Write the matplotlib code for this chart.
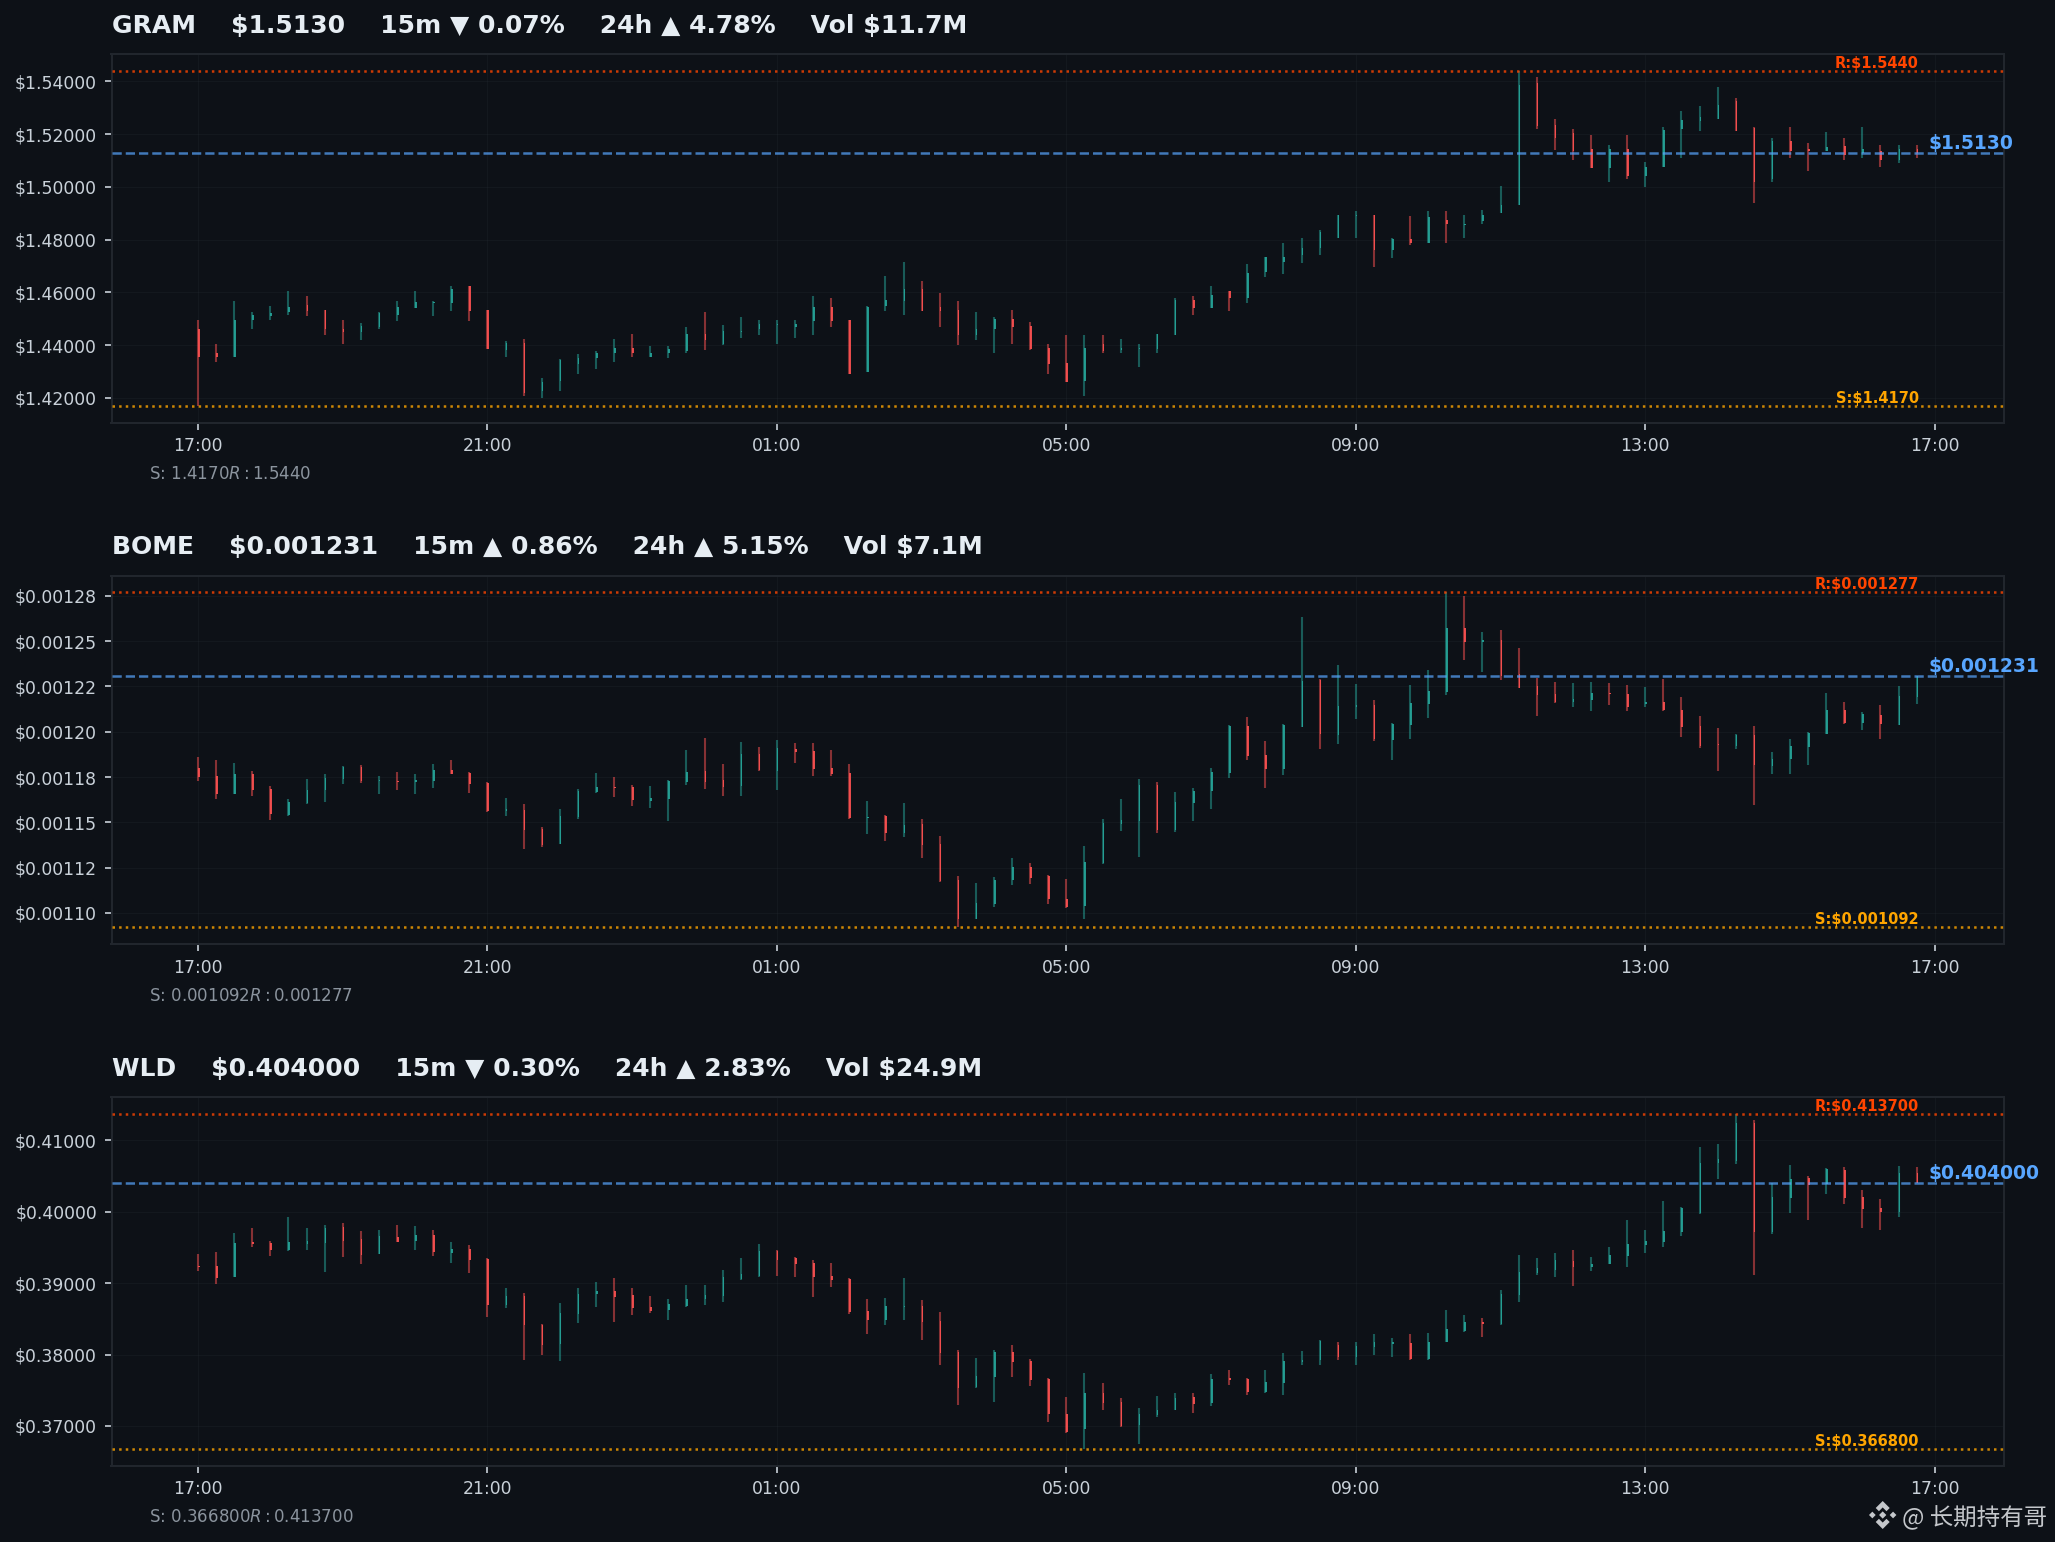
import numpy as np
import matplotlib
matplotlib.use("Agg")
import matplotlib.pyplot as plt
from matplotlib.patches import Polygon
from matplotlib.ticker import FuncFormatter, MultipleLocator

plt.rcParams['font.family'] = ['DejaVu Sans']

tick_labels = ["17:00", "21:00", "01:00", "05:00", "09:00", "13:00", "17:00"]

gram_open = [1.4463,1.4372,1.4357,1.4497,1.4509,1.4525,1.4551,1.4532,1.4463,1.4448,1.4467,1.4516,1.4539,1.4558,1.4558,1.4623,
1.4532,1.4380,1.4410,1.4228,1.4266,1.4327,1.4350,1.4369,1.4391,1.4357,1.4369,1.4376,1.4441,1.4406,1.4448,1.4460,
1.4478,1.4467,1.4490,1.4543,1.4494,1.4297,1.4547,1.4569,1.4611,1.4543,1.4532,1.4437,1.4460,1.4501,1.4471,1.4391,
1.4331,1.4266,1.4403,1.4380,1.4387,1.4387,1.4437,1.4573,1.4539,1.4604,1.4577,1.4679,1.4717,1.4740,1.4767,1.4808,
1.4888,1.4892,1.4759,1.4801,1.4789,1.4873,1.4854,1.4869,1.4899,1.4930,1.5392,1.5233,1.5203,1.5142,1.5070,1.5142,
1.5040,1.5077,1.5218,1.5248,1.5259,1.5324,1.5222,1.5028,1.5172,1.5142,1.5134,1.5153,1.5127,1.5134,1.5100,1.5142]
gram_high = [1.4496,1.4406,1.4566,1.4524,1.4547,1.4607,1.4585,1.4535,1.4496,1.4485,1.4524,1.4566,1.4607,1.4566,1.4626,1.4626,
1.4535,1.4414,1.4425,1.4274,1.4346,1.4365,1.4376,1.4425,1.4444,1.4395,1.4395,1.4467,1.4524,1.4475,1.4505,1.4497,
1.4497,1.4497,1.4585,1.4577,1.4497,1.4547,1.4664,1.4717,1.4645,1.4596,1.4566,1.4524,1.4505,1.4535,1.4486,1.4406,
1.4437,1.4437,1.4437,1.4425,1.4406,1.4444,1.4577,1.4585,1.4626,1.4607,1.4706,1.4736,1.4786,1.4805,1.4835,1.4895,
1.4907,1.4895,1.4805,1.4888,1.4907,1.4907,1.4895,1.4914,1.5005,1.5440,1.5415,1.5256,1.5218,1.5195,1.5157,1.5195,
1.5096,1.5225,1.5286,1.5305,1.5377,1.5335,1.5225,1.5187,1.5225,1.5165,1.5206,1.5187,1.5225,1.5157,1.5157,1.5157]
gram_low = [1.4170,1.4338,1.4357,1.4460,1.4497,1.4516,1.4509,1.4437,1.4406,1.4418,1.4460,1.4490,1.4539,1.4509,1.4528,1.4490,
1.4387,1.4357,1.4209,1.4198,1.4228,1.4289,1.4308,1.4338,1.4357,1.4357,1.4350,1.4369,1.4380,1.4399,1.4429,1.4437,
1.4406,1.4429,1.4437,1.4467,1.4289,1.4297,1.4528,1.4516,1.4528,1.4467,1.4399,1.4418,1.4369,1.4406,1.4380,1.4289,
1.4259,1.4209,1.4369,1.4369,1.4319,1.4369,1.4437,1.4516,1.4539,1.4528,1.4558,1.4657,1.4668,1.4710,1.4740,1.4808,
1.4808,1.4698,1.4729,1.4778,1.4789,1.4789,1.4808,1.4858,1.4899,1.4930,1.5218,1.5138,1.5100,1.5070,1.5017,1.5028,
1.4998,1.5077,1.5108,1.5210,1.5259,1.5210,1.4937,1.5017,1.5108,1.5059,1.5134,1.5100,1.5108,1.5077,1.5089,1.5108]
gram_close = [1.4357,1.4357,1.4494,1.4513,1.4520,1.4543,1.4528,1.4460,1.4448,1.4471,1.4520,1.4543,1.4562,1.4562,1.4611,1.4528,
1.4387,1.4410,1.4217,1.4262,1.4342,1.4353,1.4372,1.4391,1.4369,1.4372,1.4384,1.4441,1.4418,1.4452,1.4452,1.4482,
1.4482,1.4482,1.4543,1.4490,1.4289,1.4543,1.4573,1.4611,1.4528,1.4528,1.4437,1.4463,1.4501,1.4467,1.4387,1.4327,
1.4259,1.4391,1.4376,1.4391,1.4391,1.4441,1.4573,1.4539,1.4592,1.4577,1.4672,1.4733,1.4733,1.4770,1.4827,1.4892,
1.4892,1.4759,1.4801,1.4789,1.4884,1.4858,1.4858,1.4892,1.4933,1.5385,1.5229,1.5187,1.5134,1.5070,1.5142,1.5040,
1.5077,1.5214,1.5252,1.5263,1.5312,1.5210,1.5017,1.5172,1.5134,1.5134,1.5150,1.5119,1.5142,1.5100,1.5142,1.5130]

bome_open = np.array([1180.0,1175.6,1165.6,1176.7,1168.4,1154.0,1160.7,1167.8,1173.9,1180.5,1172.8,1172.8,1172.3,1172.8,1178.9,1177.2,
1171.7,1156.2,1156.8,1146.3,1138.0,1152.9,1166.7,1169.5,1169.5,1161.8,1162.9,1172.3,1178.3,1173.4,1170.0,1187.7,
1178.3,1190.5,1189.4,1180.0,1177.2,1152.2,1153.5,1144.1,1149.1,1138.0,1118.1,1096.6,1104.9,1118.1,1125.3,1120.3,
1107.6,1103.8,1127.5,1149.1,1150.7,1170.6,1145.7,1160.7,1167.3,1177.2,1203.2,1187.2,1179.4,1202.6,1228.6,1198.2,
1213.7,1214.8,1195.5,1203.7,1215.3,1222.0,1257.3,1249.6,1250.7,1231.9,1225.3,1220.9,1216.4,1217.5,1221.4,1220.9,
1215.3,1216.4,1212.0,1203.2,1193.2,1192.1,1198.2,1181.1,1185.0,1191.6,1198.8,1212.0,1204.8,1209.3,1203.7,1219.2]) * 1e-6
bome_high = np.array([1186.1,1184.4,1182.8,1178.3,1170.0,1162.9,1173.9,1176.7,1181.1,1181.6,1175.6,1177.8,1176.7,1182.2,1184.4,1177.8,
1172.3,1163.4,1160.1,1147.4,1157.3,1168.4,1177.2,1175.0,1170.6,1170.0,1173.4,1189.9,1196.6,1182.2,1194.3,1191.6,
1195.5,1193.8,1193.8,1189.9,1182.2,1161.8,1154.0,1160.7,1151.8,1142.4,1120.3,1116.5,1119.8,1130.3,1127.5,1120.9,
1118.7,1136.9,1151.8,1162.9,1173.9,1172.3,1166.7,1168.9,1180.0,1203.7,1208.2,1194.9,1204.3,1263.4,1229.1,1236.9,
1226.4,1217.5,1204.8,1225.8,1234.1,1277.0,1275.0,1255.1,1256.2,1246.3,1229.7,1227.5,1226.9,1227.5,1226.9,1225.8,
1224.7,1229.1,1219.2,1208.7,1202.1,1198.8,1203.2,1188.8,1196.0,1199.9,1221.4,1216.4,1210.9,1214.8,1225.3,1230.8]) * 1e-6
bome_low = np.array([1172.8,1162.9,1165.6,1164.5,1151.3,1153.5,1160.1,1161.2,1171.2,1171.7,1165.6,1167.8,1165.6,1168.9,1176.7,1166.2,
1155.7,1153.5,1135.3,1136.4,1138.0,1151.8,1166.2,1164.0,1159.0,1157.9,1150.7,1170.6,1168.4,1164.5,1164.5,1178.3,
1167.8,1182.8,1175.6,1175.6,1151.8,1143.5,1139.7,1141.9,1130.3,1117.0,1092.0,1096.6,1103.2,1115.4,1115.9,1104.9,
1102.7,1096.6,1127.0,1145.2,1130.8,1144.1,1144.6,1150.7,1157.3,1174.5,1184.4,1168.9,1176.1,1202.6,1190.5,1193.2,
1207.0,1194.9,1184.4,1196.0,1207.6,1220.3,1239.6,1233.0,1228.6,1224.2,1208.7,1215.9,1213.7,1211.5,1214.8,1211.5,
1213.7,1211.5,1197.1,1191.0,1178.3,1190.5,1159.6,1176.7,1176.7,1181.6,1198.8,1204.3,1201.0,1196.0,1203.7,1215.3]) * 1e-6
bome_close = np.array([1175.0,1165.6,1176.7,1167.8,1154.6,1161.2,1167.8,1174.5,1180.5,1172.8,1173.4,1172.3,1173.4,1178.9,1176.7,1171.2,
1156.2,1157.3,1145.7,1137.5,1153.5,1167.3,1169.5,1168.9,1162.3,1163.4,1172.8,1177.8,1172.3,1169.5,1187.7,1178.9,
1191.0,1188.8,1179.4,1176.7,1152.4,1152.9,1144.1,1148.5,1137.5,1117.6,1096.6,1105.4,1118.1,1125.3,1119.2,1107.6,
1103.2,1128.1,1149.6,1151.3,1170.6,1145.7,1161.2,1167.3,1177.8,1203.2,1186.6,1179.4,1203.7,1228.0,1198.8,1214.2,
1214.8,1196.0,1204.3,1215.9,1222.5,1257.3,1249.6,1250.7,1230.8,1224.2,1220.3,1216.4,1218.1,1221.4,1220.9,1213.7,
1216.4,1212.0,1202.6,1192.1,1192.7,1198.2,1181.6,1185.0,1192.1,1199.3,1212.0,1204.8,1209.8,1204.3,1219.8,1231.0]) * 1e-6

wld_open = np.array([392.33,392.33,390.79,395.69,395.55,394.57,395.41,395.55,397.79,396.11,394.01,396.39,395.83,396.67,394.15,394.71,
393.31,386.87,388.13,384.07,381.41,385.61,388.41,388.83,388.27,386.59,386.17,386.73,387.71,388.13,390.51,390.93,
394.43,393.45,392.75,390.93,390.51,386.03,384.77,386.59,386.73,384.63,380.29,375.39,376.79,380.29,379.03,376.51,
371.61,369.51,374.55,373.29,370.07,371.47,372.17,373.99,373.15,376.65,376.51,374.69,375.95,378.89,379.17,381.27,
379.59,380.99,381.41,381.55,379.31,381.69,383.23,384.49,384.21,388.27,391.35,391.77,393.03,392.19,392.61,393.73,
395.27,395.69,397.09,399.75,406.75,407.03,412.35,397.09,401.85,404.65,403.81,405.77,401.99,400.45,399.89,405.35]) * 1e-3
wld_high = np.array([394.01,394.29,396.95,397.65,395.83,399.19,397.65,398.07,398.35,397.23,397.37,398.07,397.93,397.37,395.69,395.27,
393.45,389.25,388.55,384.21,387.15,389.25,390.09,390.65,389.25,388.13,387.71,389.67,389.67,391.77,393.45,395.41,
394.57,393.59,393.17,392.75,390.65,387.71,387.85,390.65,387.57,385.89,380.57,379.45,380.57,381.27,379.31,376.65,
373.99,377.35,375.95,373.85,372.45,374.13,374.55,374.55,377.21,377.77,376.65,377.77,380.15,380.43,381.97,381.69,
381.69,382.81,382.25,382.81,382.95,386.17,385.47,385.05,388.97,393.87,393.45,394.15,394.57,393.59,394.99,398.77,
397.37,401.43,400.59,408.99,409.41,413.70,412.77,403.95,406.47,404.93,406.05,406.19,402.97,401.71,406.33,406.19]) * 1e-3
wld_low = np.array([391.63,389.81,390.79,394.99,393.73,394.43,394.57,391.49,393.59,392.61,394.01,395.69,394.57,393.73,392.75,391.35,
385.19,386.45,379.17,379.87,379.03,384.35,386.59,384.49,385.47,385.75,384.77,386.59,386.87,387.29,390.37,390.79,
390.93,390.79,387.99,389.39,385.61,382.81,384.07,384.77,381.97,378.47,372.87,375.25,373.29,376.79,375.53,370.49,
368.95,366.80,372.17,369.79,367.41,371.19,372.17,371.75,372.73,375.67,374.27,374.55,374.27,378.47,378.47,379.17,
378.47,379.87,379.59,379.17,379.17,381.69,383.09,382.39,384.07,387.29,391.07,390.79,389.53,391.63,392.61,392.19,
394.15,394.99,396.53,399.61,404.51,406.61,391.07,396.81,399.75,398.77,402.41,401.01,397.65,397.37,399.19,403.95]) * 1e-3
wld_close = np.array([392.19,390.65,395.55,395.41,394.57,395.69,395.83,397.65,395.83,393.87,396.53,395.69,396.67,394.29,394.71,393.17,
386.87,388.13,384.07,381.27,385.75,388.41,388.83,387.99,386.45,386.03,387.01,387.71,388.27,390.79,391.21,394.43,
393.17,392.61,390.79,390.37,385.89,384.77,386.73,386.73,384.49,380.15,375.25,376.93,380.29,378.89,376.37,371.61,
369.09,374.55,373.15,369.93,371.61,372.17,373.85,373.01,376.51,376.37,374.69,376.09,379.03,379.17,381.83,379.59,
381.13,381.69,381.69,379.31,381.69,383.51,384.49,384.21,388.41,391.49,392.05,393.17,392.19,392.61,393.87,395.41,
395.83,397.23,400.45,406.75,407.31,412.35,397.09,401.99,404.51,403.67,405.91,401.85,400.31,399.89,405.35,404.00]) * 1e-3

symbols = ["GRAM", "BOME", "WLD"]
prices = [1.5130, 0.001231, 0.404000]
price_texts = ["1.5130", "0.001231", "0.404000"]
supports = [1.4170, 0.001092, 0.366800]
support_texts = ["1.4170", "0.001092", "0.366800"]
resistances = [1.5440, 0.001277, 0.413700]
resistance_texts = ["1.5440", "0.001277", "0.413700"]
chg_15m = ["▼ 0.07%", "▲ 0.86%", "▼ 0.30%"]
chg_24h = ["▲ 4.78%", "▲ 5.15%", "▲ 2.83%"]
volumes = ["$11.7M", "$7.1M", "$24.9M"]
y_steps = [0.02, 0.000025, 0.01]
opens = [gram_open, bome_open, wld_open]
highs = [gram_high, bome_high, wld_high]
lows = [gram_low, bome_low, wld_low]
closes = [gram_close, bome_close, wld_close]

BG = "#0d1117"
GREEN = "#26a69a"
RED = "#ff5252"
W, H = 2055, 1542
tops = [54, 575.5, 1097]
AX_H = 368.6
AX_L, AX_R = 111.5, 2004

fig = plt.figure(figsize=(W / 150, H / 150), dpi=150, facecolor=BG)

for k, sym in enumerate(symbols):
    ax = fig.add_axes([AX_L / W, 1 - (tops[k] + AX_H) / H, (AX_R - AX_L) / W, AX_H / H], facecolor=BG)
    o, h, l, c = [np.asarray(a) for a in (opens[k], highs[k], lows[k], closes[k])]
    x = np.arange(len(o))
    up = c >= o
    colors = np.where(up, GREEN, RED)
    ax.vlines(x, l, h, colors=colors, linewidth=1.0, alpha=0.5, zorder=2)
    ax.bar(x, np.abs(c - o), bottom=np.minimum(o, c), width=0.085, align="edge",
           color=colors, linewidth=0, alpha=0.9, zorder=3)
    s, r, p = supports[k], resistances[k], prices[k]
    ax.axhline(p, color="#58a6ff", ls="--", lw=1.2, alpha=0.7, zorder=4)
    ax.axhline(r, color="#ff4500", ls=":", lw=1.2, alpha=0.8, zorder=4)
    ax.axhline(s, color="#ffa500", ls=":", lw=1.2, alpha=0.8, zorder=4)
    ax.set_xlim(-4.78, 99.83)
    ax.set_ylim(s - 0.05 * (r - s), r + 0.05 * (r - s))
    ax.set_xticks(np.arange(0, 97, 16))
    ax.set_xticklabels(tick_labels)
    ax.yaxis.set_major_locator(MultipleLocator(y_steps[k]))
    ax.yaxis.set_major_formatter(FuncFormatter(lambda v, pos: f"${v:.5f}"))
    ax.tick_params(colors="#c9d1d9", labelsize=8.3)
    ax.grid(True, color="#30363d", lw=0.5, alpha=0.2)
    ax.set_axisbelow(True)
    for sp in ax.spines.values():
        sp.set_color("#21262d")
        sp.set_linewidth(1.0)
    title = f"{sym}    ${price_texts[k]}    15m {chg_15m[k]}    24h {chg_24h[k]}    Vol {volumes[k]}"
    ax.text(0, 1 + 21 / AX_H, title, transform=ax.transAxes, color="#e6edf3", fontsize=12,
            fontweight="bold", ha="left", va="baseline", parse_math=False)
    ax.text(95.65, p, f"${price_texts[k]}", color="#58a6ff", fontsize=9, fontweight="bold",
            ha="left", va="bottom", clip_on=False)
    ax.text(95.12, r, f"R:${resistance_texts[k]}", color="#ff4500", fontsize=7, fontweight="bold",
            ha="right", va="bottom")
    ax.text(95.12, s, f"S:${support_texts[k]}", color="#ffa500", fontsize=7, fontweight="bold",
            ha="right", va="bottom")
    ax.text(0.02, -0.14, f"S: ${support_texts[k]}  R: ${resistance_texts[k]}", transform=ax.transAxes,
            color="#8b949e", fontsize=8, ha="left", va="center")

# watermark
fig.text(1902.5 / W, 1 - 1517.5 / H, "@ 长期持有哥", color="#c4c7cb", fontsize=11.3,
         family=["Noto Sans CJK SC", "DejaVu Sans"], ha="left", va="center")
logo = fig.add_axes([(1882.7 - 14) / W, 1 - (1515 + 14) / H, 28 / W, 28 / H])
logo.set_xlim(-1, 1)
logo.set_ylim(-1, 1)
logo.axis("off")
chev = [(0, 1), (.5, .5), (.27, .27), (0, .54), (-.27, .27), (-.5, .5)]
for sign in (1, -1):
    logo.add_patch(Polygon([(a, sign * b) for a, b in chev], color="#c4c7cb", lw=0))
for cx, hw in ((-.74, .24), (.74, .24), (0, .26)):
    logo.add_patch(Polygon([(cx - hw, 0), (cx, hw), (cx + hw, 0), (cx, -hw)], color="#c4c7cb", lw=0))

fig.savefig("out.png", dpi=150, facecolor=BG)
